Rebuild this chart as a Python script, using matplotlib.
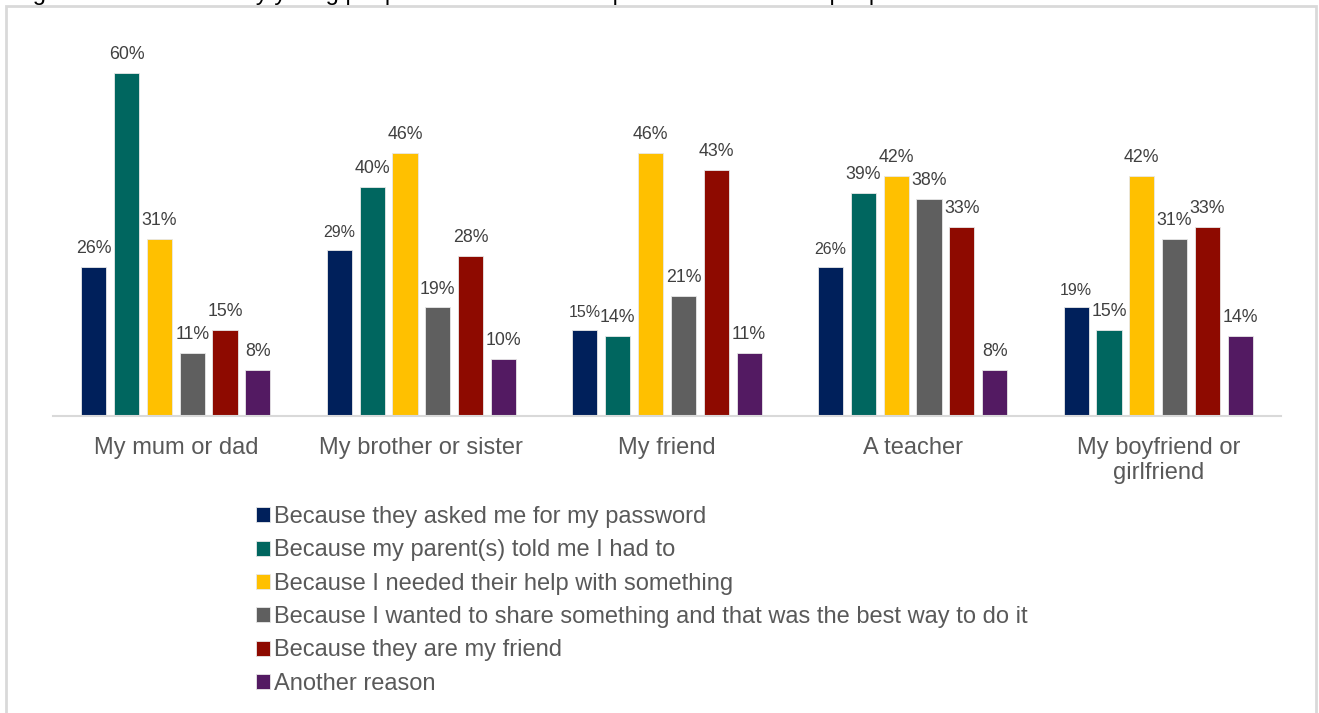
import numpy as np
import matplotlib.pyplot as plt
from matplotlib.patches import Rectangle

plt.rcParams['font.family'] = ['Liberation Sans', 'DejaVu Sans']

people = ["My mum or dad", "My brother or sister", "My friend", "A teacher",
          "My boyfriend or\ngirlfriend"]

reasons = [
    "Because they asked me for my password",
    "Because my parent(s) told me I had to",
    "Because I needed their help with something",
    "Because I wanted to share something and that was the best way to do it",
    "Because they are my friend",
    "Another reason",
]

asked_password = [26, 29, 15, 26, 19]
parents_told = [60, 40, 14, 39, 15]
needed_help = [31, 46, 46, 42, 42]
wanted_share = [11, 19, 21, 38, 31]
they_are_friend = [15, 28, 43, 33, 33]
another_reason = [8, 10, 11, 8, 14]

series = [asked_password, parents_told, needed_help, wanted_share,
          they_are_friend, another_reason]
colors = ["#00205B", "#00665F", "#FFC000", "#5F5F5F", "#8E0A00", "#531A62"]

# a few of the labels on the first series came out smaller in the original export
small_labels = {(0, 1), (0, 2), (0, 3), (0, 4)}

fig = plt.figure(figsize=(13.19, 7.13), dpi=100)
ax = fig.add_axes([53 / 1319, 297 / 713, 1228 / 1319, 372 / 713])

x = np.arange(len(people))
pitch = 0.1336
width = 0.102
offsets = (np.arange(len(series)) - (len(series) - 1) / 2) * pitch

for i, (vals, col, lab) in enumerate(zip(series, colors, reasons)):
    xs = x + offsets[i]
    ax.bar(xs, vals, width=width, color=col, edgecolor="#e8e8e8",
           linewidth=0.6, label=lab)
    for j, (xx, v) in enumerate(zip(xs, vals)):
        size = 11.5 if (i, j) in small_labels else 12.8
        ax.annotate(f"{v}%", (xx, v), xytext=(0, 7), textcoords="offset points",
                    ha="center", va="bottom", fontsize=size, color="#404040")

ax.set_xlim(-0.5, len(people) - 0.5)
ax.set_ylim(0, 65)
ax.set_xticks(x)
ax.set_xticklabels(people, fontsize=17, color="#595959")
ax.tick_params(axis="x", length=0, pad=15)
ax.set_yticks([])
for s in ["top", "right", "left"]:
    ax.spines[s].set_visible(False)
ax.spines["bottom"].set_color("#d9d9d9")
ax.spines["bottom"].set_linewidth(1.5)

leg = fig.legend(loc="upper left", bbox_to_anchor=(256 / 1319, 1 - 506 / 713),
                 frameon=False, fontsize=17, handlelength=0.6, handleheight=0.6,
                 handletextpad=0.15, labelspacing=0.48, borderpad=0,
                 borderaxespad=0)
for t in leg.get_texts():
    t.set_color("#595959")

# chart frame and the page title running off the top edge
fig.patches.append(Rectangle((6 / 1319, -0.05), 1310 / 1319, 1.05 - 6 / 713,
                             transform=fig.transFigure, fill=False,
                             edgecolor="#d9d9d9", linewidth=2))
fig.text(13 / 1319, 1.0, "Figure 14: Reasons why young people have shared their password with other people",
         fontsize=17, color="black", ha="left", va="baseline")

fig.savefig("out.png", dpi=100)
